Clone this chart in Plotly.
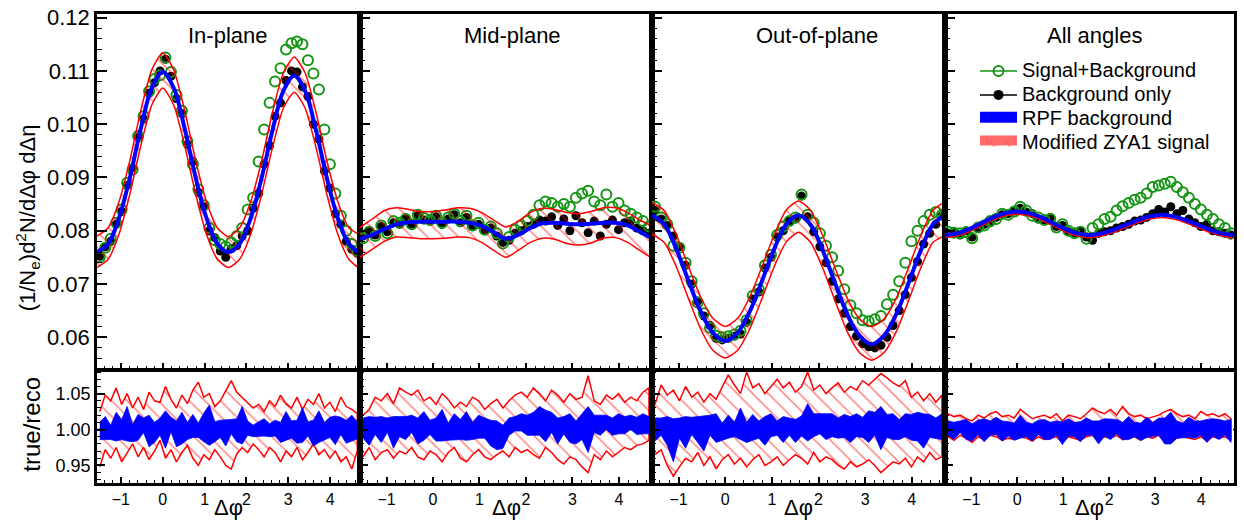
import numpy as np
import plotly.graph_objects as go

PI = np.pi
NB = 48
x_bins = -PI / 2 + (np.arange(NB) + 0.5) * (2 * PI / NB)
x_curve = -PI / 2 + np.arange(25) * (PI / 12)

panel_titles = ["In-plane", "Mid-plane", "Out-of-plane", "All angles"]
x_tick_vals = [-1, 0, 1, 2, 3, 4]

# ---------------- In-plane ----------------
sig_in = [0.0750, 0.0768, 0.0785, 0.0815, 0.0840, 0.0890, 0.0915, 0.0978, 0.1015, 0.1062, 0.1085, 0.1092,
          0.1125, 0.1098, 0.1055, 0.1025, 0.0968, 0.0925, 0.0878, 0.0848, 0.0805, 0.0782, 0.0775, 0.0770,
          0.0778, 0.0790, 0.0805, 0.0840, 0.0862, 0.0930, 0.0990, 0.1040, 0.1080, 0.1105, 0.1140, 0.1152,
          0.1155, 0.1150, 0.1120, 0.1095, 0.1065, 0.0990, 0.0925, 0.0870, 0.0828, 0.0800, 0.0775, 0.0762]
bkg_in = [0.0752, 0.0770, 0.0780, 0.0812, 0.0836, 0.0885, 0.0918, 0.0975, 0.1010, 0.1058, 0.1078, 0.1100,
          0.1122, 0.1090, 0.1048, 0.1020, 0.0962, 0.0930, 0.0872, 0.0845, 0.0800, 0.0787, 0.0762, 0.0750,
          0.0766, 0.0772, 0.0790, 0.0800, 0.0842, 0.0870, 0.0925, 0.0960, 0.1015, 0.1040, 0.1082, 0.1100,
          0.1098, 0.1070, 0.1052, 0.1000, 0.0972, 0.0912, 0.0880, 0.0832, 0.0812, 0.0780, 0.0765, 0.0758]
rpf_in = [0.0760, 0.0775, 0.0823, 0.0900, 0.0992, 0.1068, 0.1098, 0.1068, 0.0992, 0.0900, 0.0823, 0.0775,
          0.0760, 0.0775, 0.0822, 0.0897, 0.0987, 0.1062, 0.1091, 0.1062, 0.0987, 0.0897, 0.0822, 0.0775, 0.0758]
zya_hi_in = [0.0790, 0.0805, 0.0854, 0.0932, 0.1026, 0.1102, 0.1134, 0.1102, 0.1026, 0.0932, 0.0854, 0.0805,
             0.0789, 0.0805, 0.0853, 0.0929, 0.1021, 0.1096, 0.1126, 0.1096, 0.1021, 0.0929, 0.0853, 0.0805, 0.0790]
zya_lo_in = [0.0731, 0.0746, 0.0793, 0.0869, 0.0960, 0.1036, 0.1068, 0.1036, 0.0960, 0.0869, 0.0793, 0.0746,
             0.0731, 0.0746, 0.0792, 0.0866, 0.0955, 0.1030, 0.1060, 0.1030, 0.0955, 0.0866, 0.0792, 0.0746, 0.0730]
rb_c_in = [0.998, 1.002, 0.996, 1.004, 1.000, 1.008, 0.995, 1.003, 1.006, 0.998, 0.996, 1.004,
           1.000, 1.007, 0.994, 1.002, 0.998, 1.005, 0.999, 1.003, 1.006, 0.997, 1.001, 0.995,
           1.004, 0.999, 1.006, 1.002, 0.998, 1.001, 1.003, 0.999, 1.002, 0.996, 1.005, 1.000,
           0.997, 1.006, 1.001, 0.995, 1.004, 0.998, 1.003, 0.999, 1.005, 0.997, 1.002, 0.999]
rb_w_in = [0.012, 0.016, 0.010, 0.020, 0.014, 0.024, 0.012, 0.018, 0.010, 0.022, 0.014, 0.012,
           0.026, 0.010, 0.018, 0.022, 0.012, 0.016, 0.010, 0.020, 0.028, 0.014, 0.012, 0.018,
           0.010, 0.016, 0.026, 0.010, 0.008, 0.010, 0.012, 0.009, 0.011, 0.014, 0.020, 0.012,
           0.016, 0.024, 0.010, 0.018, 0.022, 0.012, 0.014, 0.020, 0.012, 0.016, 0.018, 0.012]
rr_hi_in = [1.025, 1.048, 1.040, 1.058, 1.035, 1.050, 1.030, 1.045, 1.028, 1.052, 1.040, 1.038,
            1.060, 1.042, 1.030, 1.048, 1.036, 1.055, 1.066, 1.045, 1.050, 1.032, 1.040, 1.055,
            1.068, 1.052, 1.045, 1.038, 1.030, 1.035, 1.025, 1.040, 1.032, 1.048, 1.036, 1.030,
            1.045, 1.028, 1.042, 1.035, 1.050, 1.030, 1.038, 1.025, 1.045, 1.032, 1.028, 1.022]
rr_lo_in = [0.948, 0.972, 0.960, 0.975, 0.955, 0.968, 0.980, 0.962, 0.975, 0.958, 0.970, 0.985,
            0.960, 0.972, 0.955, 0.968, 0.978, 0.960, 0.950, 0.965, 0.958, 0.972, 0.962, 0.950,
            0.945, 0.966, 0.975, 0.968, 0.980, 0.972, 0.962, 0.975, 0.968, 0.955, 0.970, 0.962,
            0.975, 0.958, 0.968, 0.980, 0.965, 0.972, 0.960, 0.970, 0.955, 0.962, 0.945, 0.970]

# ---------------- Mid-plane ----------------
sig_mid = [0.0786, 0.0798, 0.0790, 0.0810, 0.0795, 0.0818, 0.0815, 0.0822, 0.0812, 0.0830, 0.0824, 0.0820,
           0.0828, 0.0815, 0.0825, 0.0832, 0.0818, 0.0828, 0.0810, 0.0815, 0.0802, 0.0808, 0.0795, 0.0776,
           0.0788, 0.0802, 0.0810, 0.0818, 0.0830, 0.0848, 0.0855, 0.0852, 0.0845, 0.0850, 0.0845, 0.0862,
           0.0870, 0.0875, 0.0855, 0.0848, 0.0868, 0.0845, 0.0852, 0.0838, 0.0832, 0.0825, 0.0818, 0.0808]
bkg_mid = [0.0790, 0.0800, 0.0792, 0.0808, 0.0798, 0.0815, 0.0812, 0.0824, 0.0810, 0.0828, 0.0820, 0.0818,
           0.0826, 0.0812, 0.0822, 0.0830, 0.0815, 0.0825, 0.0808, 0.0812, 0.0800, 0.0805, 0.0790, 0.0778,
           0.0782, 0.0795, 0.0800, 0.0808, 0.0812, 0.0820, 0.0818, 0.0826, 0.0810, 0.0822, 0.0800, 0.0828,
           0.0815, 0.0796, 0.0818, 0.0790, 0.0812, 0.0820, 0.0802, 0.0815, 0.0818, 0.0805, 0.0800, 0.0795]
rpf_mid = [0.0785, 0.0792, 0.0803, 0.0812, 0.0816, 0.0817, 0.0817, 0.0817, 0.0817, 0.0815, 0.0809, 0.0797,
           0.0785, 0.0792, 0.0805, 0.0814, 0.0815, 0.0813, 0.0812, 0.0813, 0.0815, 0.0815, 0.0810, 0.0798, 0.0786]
zya_hi_mid = [0.0806, 0.0822, 0.0838, 0.0843, 0.0840, 0.0836, 0.0836, 0.0839, 0.0843, 0.0842, 0.0834, 0.0820,
              0.0807, 0.0818, 0.0834, 0.0842, 0.0840, 0.0834, 0.0832, 0.0836, 0.0843, 0.0843, 0.0834, 0.0820, 0.0807]
zya_lo_mid = [0.0750, 0.0765, 0.0780, 0.0788, 0.0787, 0.0785, 0.0785, 0.0786, 0.0788, 0.0787, 0.0778, 0.0763,
              0.0750, 0.0763, 0.0778, 0.0786, 0.0784, 0.0776, 0.0773, 0.0777, 0.0786, 0.0787, 0.0778, 0.0763, 0.0750]
rb_c_mid = [1.002, 0.998, 1.005, 1.000, 1.006, 0.996, 1.004, 1.002, 1.008, 0.998, 1.005, 1.003,
            1.000, 1.006, 0.997, 1.004, 1.000, 1.005, 0.998, 1.004, 1.002, 0.995, 0.992, 0.990,
            1.004, 1.008, 1.010, 1.006, 1.008, 1.012, 1.005, 1.010, 0.998, 1.006, 1.002, 0.996,
            1.004, 1.000, 1.008, 1.006, 1.010, 1.004, 1.008, 1.006, 1.010, 1.005, 1.008, 1.006]
rb_w_mid = [0.014, 0.020, 0.012, 0.018, 0.010, 0.022, 0.014, 0.016, 0.012, 0.018, 0.020, 0.010,
            0.016, 0.022, 0.012, 0.018, 0.014, 0.020, 0.012, 0.016, 0.014, 0.018, 0.020, 0.016,
            0.012, 0.010, 0.012, 0.014, 0.016, 0.020, 0.022, 0.014, 0.018, 0.012, 0.020, 0.016,
            0.018, 0.032, 0.012, 0.014, 0.010, 0.012, 0.014, 0.012, 0.010, 0.012, 0.014, 0.012]
rr_hi_mid = [1.020, 1.028, 1.045, 1.040, 1.050, 1.036, 1.058, 1.052, 1.048, 1.055, 1.040, 1.045,
             1.035, 1.050, 1.042, 1.030, 1.038, 1.032, 1.045, 1.040, 1.028, 1.036, 1.042, 1.030,
             1.040, 1.048, 1.052, 1.045, 1.058, 1.050, 1.040, 1.055, 1.048, 1.038, 1.050, 1.042,
             1.045, 1.075, 1.040, 1.035, 1.048, 1.042, 1.050, 1.038, 1.045, 1.040, 1.052, 1.058]
rr_lo_mid = [0.962, 0.975, 0.958, 0.968, 0.972, 0.960, 0.970, 0.966, 0.975, 0.962, 0.958, 0.970,
             0.965, 0.955, 0.968, 0.975, 0.960, 0.955, 0.965, 0.972, 0.962, 0.958, 0.965, 0.970,
             0.962, 0.975, 0.968, 0.972, 0.965, 0.960, 0.975, 0.968, 0.958, 0.952, 0.962, 0.958,
             0.948, 0.940, 0.965, 0.958, 0.970, 0.962, 0.968, 0.975, 0.972, 0.978, 0.980, 0.985]

# ---------------- Out-of-plane ----------------
sig_out = [0.0845, 0.0825, 0.0812, 0.0772, 0.0768, 0.0740, 0.0705, 0.0665, 0.0645, 0.0618, 0.0603, 0.0600,
           0.0602, 0.0605, 0.0612, 0.0632, 0.0678, 0.0690, 0.0735, 0.0755, 0.0792, 0.0808, 0.0818, 0.0825,
           0.0868, 0.0830, 0.0815, 0.0795, 0.0772, 0.0750, 0.0725, 0.0690, 0.0660, 0.0645, 0.0632, 0.0630,
           0.0634, 0.0640, 0.0662, 0.0680, 0.0705, 0.0740, 0.0780, 0.0800, 0.0818, 0.0830, 0.0835, 0.0830]
bkg_out = [0.0838, 0.0822, 0.0810, 0.0790, 0.0770, 0.0735, 0.0700, 0.0668, 0.0640, 0.0622, 0.0598, 0.0595,
           0.0598, 0.0602, 0.0606, 0.0628, 0.0672, 0.0685, 0.0730, 0.0750, 0.0788, 0.0800, 0.0818, 0.0822,
           0.0865, 0.0826, 0.0798, 0.0770, 0.0740, 0.0705, 0.0672, 0.0645, 0.0620, 0.0602, 0.0588, 0.0582,
           0.0580, 0.0585, 0.0600, 0.0622, 0.0650, 0.0680, 0.0712, 0.0742, 0.0775, 0.0795, 0.0812, 0.0828]
rpf_out = [0.0829, 0.0812, 0.0765, 0.0705, 0.0648, 0.0608, 0.0593, 0.0608, 0.0648, 0.0705, 0.0765, 0.0812,
           0.0829, 0.0811, 0.0762, 0.0701, 0.0643, 0.0603, 0.0587, 0.0603, 0.0643, 0.0701, 0.0762, 0.0811, 0.0829]
zya_hi_out = [0.0853, 0.0838, 0.0792, 0.0732, 0.0675, 0.0635, 0.0620, 0.0635, 0.0675, 0.0732, 0.0792, 0.0839,
              0.0856, 0.0838, 0.0790, 0.0730, 0.0673, 0.0634, 0.0620, 0.0634, 0.0673, 0.0730, 0.0790, 0.0838, 0.0853]
zya_lo_out = [0.0793, 0.0778, 0.0732, 0.0672, 0.0615, 0.0575, 0.0561, 0.0575, 0.0615, 0.0672, 0.0732, 0.0779,
              0.0797, 0.0778, 0.0729, 0.0668, 0.0610, 0.0571, 0.0557, 0.0571, 0.0610, 0.0668, 0.0729, 0.0778, 0.0793]
rb_c_out = [1.000, 1.004, 0.998, 0.985, 1.002, 0.996, 1.005, 1.000, 0.994, 1.006, 1.002, 0.997,
            1.004, 1.000, 1.008, 0.996, 1.003, 1.000, 0.998, 1.006, 1.002, 1.000, 1.004, 0.998,
            1.005, 1.010, 1.006, 1.008, 1.004, 1.006, 1.002, 1.005, 1.000, 1.006, 1.003, 1.004,
            1.008, 1.002, 1.005, 1.004, 1.000, 1.006, 1.003, 1.004, 0.998, 1.005, 1.002, 1.004]
rb_w_out = [0.016, 0.012, 0.020, 0.030, 0.014, 0.022, 0.012, 0.018, 0.024, 0.014, 0.020, 0.012,
            0.016, 0.010, 0.022, 0.014, 0.018, 0.012, 0.020, 0.016, 0.010, 0.018, 0.012, 0.016,
            0.014, 0.026, 0.016, 0.014, 0.018, 0.016, 0.014, 0.016, 0.018, 0.016, 0.014, 0.022,
            0.016, 0.030, 0.016, 0.018, 0.014, 0.016, 0.018, 0.020, 0.024, 0.016, 0.014, 0.018]
rr_hi_out = [1.035, 1.062, 1.048, 1.055, 1.040, 1.060, 1.045, 1.052, 1.038, 1.050, 1.042, 1.058,
             1.076, 1.062, 1.050, 1.080, 1.058, 1.064, 1.050, 1.060, 1.070, 1.058, 1.066, 1.052,
             1.060, 1.080, 1.055, 1.062, 1.050, 1.058, 1.065, 1.052, 1.060, 1.055, 1.068, 1.062,
             1.070, 1.078, 1.072, 1.065, 1.060, 1.068, 1.045, 1.052, 1.040, 1.050, 1.038, 1.048]
rr_lo_out = [0.965, 0.972, 0.950, 0.935, 0.948, 0.960, 0.955, 0.968, 0.950, 0.962, 0.945, 0.958,
             0.965, 0.952, 0.960, 0.948, 0.958, 0.965, 0.950, 0.955, 0.962, 0.950, 0.958, 0.965,
             0.960, 0.952, 0.968, 0.955, 0.962, 0.958, 0.950, 0.945, 0.955, 0.948, 0.952, 0.958,
             0.950, 0.940, 0.948, 0.955, 0.952, 0.960, 0.948, 0.962, 0.955, 0.968, 0.958, 0.962]

# ---------------- All angles ----------------
sig_all = [0.0798, 0.0796, 0.0795, 0.0797, 0.0786, 0.0806, 0.0810, 0.0818, 0.0822, 0.0832, 0.0830, 0.0836,
           0.0845, 0.0838, 0.0828, 0.0825, 0.0820, 0.0822, 0.0806, 0.0812, 0.0800, 0.0795, 0.0798, 0.0785,
           0.0805, 0.0812, 0.0822, 0.0826, 0.0838, 0.0846, 0.0852, 0.0858, 0.0862, 0.0870, 0.0882, 0.0885,
           0.0888, 0.0892, 0.0882, 0.0872, 0.0862, 0.0850, 0.0840, 0.0830, 0.0822, 0.0812, 0.0805, 0.0795]
bkg_all = [0.0795, 0.0798, 0.0792, 0.0800, 0.0788, 0.0805, 0.0812, 0.0815, 0.0825, 0.0830, 0.0832, 0.0838,
           0.0842, 0.0835, 0.0832, 0.0822, 0.0818, 0.0825, 0.0808, 0.0810, 0.0798, 0.0796, 0.0800, 0.0788,
           0.0782, 0.0795, 0.0798, 0.0800, 0.0805, 0.0808, 0.0812, 0.0818, 0.0820, 0.0825, 0.0832, 0.0840,
           0.0835, 0.0845, 0.0832, 0.0838, 0.0822, 0.0815, 0.0808, 0.0812, 0.0800, 0.0798, 0.0795, 0.0792]
rpf_all = [0.0792, 0.0795, 0.0803, 0.0814, 0.0825, 0.0833, 0.0836, 0.0833, 0.0825, 0.0814, 0.0803, 0.0795,
           0.0792, 0.0795, 0.0802, 0.0811, 0.0820, 0.0827, 0.0830, 0.0827, 0.0820, 0.0811, 0.0802, 0.0795, 0.0792]
zya_hi_all = [0.0793, 0.0796, 0.0804, 0.0815, 0.0826, 0.0834, 0.0837, 0.0834, 0.0826, 0.0815, 0.0804, 0.0796,
              0.0793, 0.0796, 0.0803, 0.0812, 0.0821, 0.0828, 0.0831, 0.0828, 0.0821, 0.0812, 0.0803, 0.0796, 0.0793]
zya_lo_all = [0.0787, 0.0790, 0.0798, 0.0809, 0.0820, 0.0828, 0.0831, 0.0828, 0.0820, 0.0809, 0.0798, 0.0790,
              0.0787, 0.0790, 0.0797, 0.0806, 0.0815, 0.0822, 0.0825, 0.0822, 0.0815, 0.0806, 0.0797, 0.0790, 0.0787]
rb_c_all = [1.002, 0.998, 1.004, 1.000, 0.996, 1.003, 0.999, 1.002, 1.005, 0.998, 1.001, 0.997,
            1.004, 1.000, 0.996, 1.003, 1.000, 0.998, 1.002, 0.995, 1.003, 1.000, 0.997, 1.004,
            1.002, 0.996, 1.003, 1.000, 1.004, 0.998, 1.002, 1.000, 0.997, 1.003, 1.000, 1.004,
            0.998, 1.002, 1.000, 0.999, 1.003, 1.000, 1.002, 0.998, 1.003, 1.000, 1.002, 0.998]
rb_w_all = [0.010, 0.012, 0.008, 0.014, 0.012, 0.010, 0.016, 0.010, 0.012, 0.014, 0.010, 0.012,
            0.016, 0.010, 0.012, 0.010, 0.014, 0.012, 0.010, 0.016, 0.012, 0.010, 0.014, 0.012,
            0.010, 0.016, 0.012, 0.014, 0.010, 0.012, 0.016, 0.010, 0.012, 0.014, 0.010, 0.012,
            0.018, 0.022, 0.012, 0.010, 0.014, 0.012, 0.010, 0.016, 0.012, 0.014, 0.010, 0.016]
rr_hi_all = [1.022, 1.018, 1.020, 1.015, 1.012, 1.020, 1.016, 1.022, 1.025, 1.018, 1.020, 1.016,
             1.028, 1.022, 1.015, 1.018, 1.020, 1.016, 1.022, 1.012, 1.020, 1.018, 1.015, 1.022,
             1.030, 1.025, 1.022, 1.028, 1.020, 1.032, 1.022, 1.018, 1.020, 1.015, 1.018, 1.020,
             1.025, 1.028, 1.022, 1.018, 1.020, 1.015, 1.025, 1.020, 1.022, 1.018, 1.022, 1.015]
rr_lo_all = [0.990, 0.985, 0.992, 0.988, 0.982, 0.990, 0.986, 0.992, 0.990, 0.985, 0.988, 0.986,
             0.990, 0.988, 0.984, 0.990, 0.986, 0.988, 0.990, 0.982, 0.990, 0.988, 0.985, 0.990,
             0.992, 0.984, 0.990, 0.988, 0.992, 0.986, 0.988, 0.990, 0.985, 0.990, 0.988, 0.992,
             0.984, 0.982, 0.988, 0.990, 0.988, 0.986, 0.990, 0.984, 0.990, 0.988, 0.990, 0.985]

panels = [
    dict(sig=sig_in, bkg=bkg_in, rpf=rpf_in, zhi=zya_hi_in, zlo=zya_lo_in,
         bc=rb_c_in, bw=rb_w_in, rhi=rr_hi_in, rlo=rr_lo_in),
    dict(sig=sig_mid, bkg=bkg_mid, rpf=rpf_mid, zhi=zya_hi_mid, zlo=zya_lo_mid,
         bc=rb_c_mid, bw=rb_w_mid, rhi=rr_hi_mid, rlo=rr_lo_mid),
    dict(sig=sig_out, bkg=bkg_out, rpf=rpf_out, zhi=zya_hi_out, zlo=zya_lo_out,
         bc=rb_c_out, bw=rb_w_out, rhi=rr_hi_out, rlo=rr_lo_out),
    dict(sig=sig_all, bkg=bkg_all, rpf=rpf_all, zhi=zya_hi_all, zlo=zya_lo_all,
         bc=rb_c_all, bw=rb_w_all, rhi=rr_hi_all, rlo=rr_lo_all),
]

# ---------------- styling / geometry ----------------
W, H = 1244, 521
FONT = "Liberation Sans, Arial, Helvetica, sans-serif"
GREEN = "rgb(20,150,20)"
BLUE = "rgb(0,0,255)"
RED = "rgb(255,0,0)"
x_px = [(97, 360), (360, 652), (652, 945), (945, 1234)]
top_px = (5, 366)
bot_px = (368, 482)
XR = [-PI / 2, 3 * PI / 2]
YR_TOP = [0.0541, 0.1207]
YR_BOT = [0.926, 1.082]


def px_dom_x(a, b):
    return [a / W, b / W]


def px_dom_y(top, bot):
    return [1 - bot / H, 1 - top / H]


hatch = dict(shape="\\", fgcolor=RED, bgcolor="rgba(0,0,0,0)", size=11, solidity=0.14,
             fillmode="overlay")

fig = go.Figure()

for i, p in enumerate(panels):
    xt, yt = f"x{i + 1}", f"y{i + 1}"
    xb, yb = f"x{i + 5}", f"y{i + 5}"
    # ---- top panel ----
    fig.add_trace(go.Scatter(x=x_bins, y=p["bkg"], mode="markers", xaxis=xt, yaxis=yt, showlegend=False,
                             marker=dict(symbol="circle", size=9, color="black")))
    fig.add_trace(go.Scatter(x=x_bins, y=p["sig"], mode="markers", xaxis=xt, yaxis=yt, showlegend=False,
                             marker=dict(symbol="circle-open", size=10, color=GREEN, line=dict(width=2, color=GREEN))))
    poly_x = np.concatenate([x_curve, x_curve[::-1]])
    poly_y = np.concatenate([np.array(p["zhi"]), np.array(p["zlo"])[::-1]])
    fig.add_trace(go.Scatter(x=poly_x, y=poly_y, mode="lines", fill="toself", xaxis=xt, yaxis=yt,
                             showlegend=False, fillcolor="rgba(0,0,0,0)", fillpattern=hatch,
                             line=dict(color=RED, width=1.5, shape="spline", smoothing=0.6)))
    fig.add_trace(go.Scatter(x=x_curve, y=p["rpf"], mode="lines", xaxis=xt, yaxis=yt, showlegend=False,
                             line=dict(color=BLUE, width=4, shape="spline")))
    # ---- ratio panel ----
    rx = np.concatenate([x_bins, x_bins[::-1]])
    ry = np.concatenate([np.array(p["rhi"]), np.array(p["rlo"])[::-1]])
    fig.add_trace(go.Scatter(x=rx, y=ry, mode="lines", fill="toself", xaxis=xb, yaxis=yb, showlegend=False,
                             fillcolor="rgba(0,0,0,0)", fillpattern=hatch, line=dict(color=RED, width=1.5)))
    bc = np.array(p["bc"])
    bw = np.array(p["bw"])
    by = np.concatenate([bc + bw, (bc - bw)[::-1]])
    fig.add_trace(go.Scatter(x=rx, y=by, mode="lines", fill="toself", xaxis=xb, yaxis=yb, showlegend=False,
                             fillcolor=BLUE, line=dict(color=BLUE, width=0.8)))
    fig.add_shape(type="line", xref=f"{xb} domain", yref=yb, x0=0, x1=1, y0=1, y1=1, layer="below",
                  line=dict(color="black", width=1.5, dash="dash"))

# legend-only entries
leg_names = ["Signal+Background", "Background only", "RPF background", "Modified ZYA1 signal"]
span = '<span style="font-size:20px">{}</span>'
fig.add_trace(go.Scatter(x=[None], y=[None], xaxis="x4", yaxis="y4", mode="lines+markers", name=span.format(leg_names[0]),
                         line=dict(color=GREEN, width=1.5),
                         marker=dict(symbol="circle-open", size=10, color=GREEN, line=dict(width=2, color=GREEN))))
fig.add_trace(go.Scatter(x=[None], y=[None], xaxis="x4", yaxis="y4", mode="lines+markers", name=span.format(leg_names[1]),
                         line=dict(color="black", width=1.5), marker=dict(symbol="circle", size=10, color="black")))
fig.add_trace(go.Scatter(x=[None], y=[None], xaxis="x4", yaxis="y4", mode="lines", fill="toself",
                         name=span.format(leg_names[2]), fillcolor=BLUE, line=dict(color=BLUE, width=12)))
fig.add_trace(go.Scatter(x=[None], y=[None], xaxis="x4", yaxis="y4", mode="lines", fill="toself",
                         name=span.format(leg_names[3]), fillcolor="rgba(255,0,0,0.35)", fillpattern=hatch,
                         line=dict(color="rgba(255,90,90,0.9)", width=12)))

layout = dict(
    width=W, height=H, margin=dict(l=0, r=0, t=0, b=0),
    paper_bgcolor="white", plot_bgcolor="white",
    font=dict(family=FONT, color="black"),
    showlegend=True,
    legend=dict(x=975 / W, y=1 - 46 / H, xanchor="left", yanchor="top", bgcolor="rgba(0,0,0,0)",
                borderwidth=0, font=dict(size=16, family=FONT), itemwidth=37, tracegroupgap=0,
                traceorder="normal"),
)

common_axis = dict(showgrid=False, zeroline=False, showline=True, mirror=True, linecolor="black",
                   linewidth=2.5, ticks="inside", tickcolor="black", ticklabeloverflow="allow")

for i in range(4):
    xa, xb = x_px[i]
    sx_t = "xaxis" if i == 0 else f"xaxis{i + 1}"
    sy_t = "yaxis" if i == 0 else f"yaxis{i + 1}"
    sx_b = f"xaxis{i + 5}"
    sy_b = f"yaxis{i + 5}"
    layout[sx_t] = dict(common_axis, domain=px_dom_x(xa, xb), anchor=f"y{i + 1}", range=XR,
                        tickmode="array", tickvals=x_tick_vals, showticklabels=False, ticklen=6, tickwidth=1.5,
                        minor=dict(dtick=0.2, tick0=0, ticks="inside", ticklen=3, tickwidth=1, tickcolor="black"))
    layout[sy_t] = dict(common_axis, domain=px_dom_y(*top_px), anchor=f"x{i + 1}", range=YR_TOP,
                        dtick=0.01, tick0=0, tickformat=".2f", showticklabels=(i == 0), ticklen=10, tickwidth=1.5,
                        tickfont=dict(size=22, family=FONT),
                        minor=dict(dtick=0.002, tick0=0, ticks="inside", ticklen=5, tickwidth=1, tickcolor="black"))
    layout[sx_b] = dict(common_axis, domain=px_dom_x(xa, xb), anchor=f"y{i + 5}", range=XR,
                        tickmode="array", tickvals=x_tick_vals, showticklabels=True, ticklen=6, tickwidth=1.5,
                        tickfont=dict(size=16, family=FONT),
                        minor=dict(dtick=0.2, tick0=0, ticks="inside", ticklen=3, tickwidth=1, tickcolor="black"))
    layout[sy_b] = dict(common_axis, domain=px_dom_y(*bot_px), anchor=f"x{i + 5}", range=YR_BOT,
                        dtick=0.05, tick0=0, tickformat=".2f", showticklabels=(i == 0), ticklen=8, tickwidth=1.5,
                        tickfont=dict(size=18, family=FONT),
                        minor=dict(dtick=0.01, tick0=0, ticks="inside", ticklen=4, tickwidth=1, tickcolor="black"))

annotations = []
title_x = [228, 512, 817, 1094]
for i, t in enumerate(panel_titles):
    annotations.append(dict(text=t, x=title_x[i] / W, y=1 - 27 / H, xref="paper", yref="paper",
                            showarrow=False, xanchor="center", yanchor="middle",
                            font=dict(size=22, family=FONT, color="black")))
for i in range(4):
    xa, xb = x_px[i]
    annotations.append(dict(text="Δφ", x=(xa + xb) / 2 / W, y=1 - 507 / H, xref="paper", yref="paper",
                            showarrow=False, xanchor="center", yanchor="middle",
                            font=dict(size=22, family=FONT, color="black")))
annotations.append(dict(text="(1/N<sub>e</sub>)d<sup>2</sup>N/dΔφ dΔη", x=27 / W, y=1 - 213 / H,
                        xref="paper", yref="paper", showarrow=False, textangle=-90,
                        xanchor="center", yanchor="middle", font=dict(size=22, family=FONT, color="black")))
annotations.append(dict(text="true/reco", x=32 / W, y=1 - 423 / H, xref="paper", yref="paper",
                        showarrow=False, textangle=-90, xanchor="center", yanchor="middle",
                        font=dict(size=24, family=FONT, color="black")))
layout["annotations"] = annotations

fig.update_layout(**layout)
fig.write_html("out.html", config={"displayModeBar": False},
               post_script="document.body.style.margin='0px';document.body.style.padding='0px';")
